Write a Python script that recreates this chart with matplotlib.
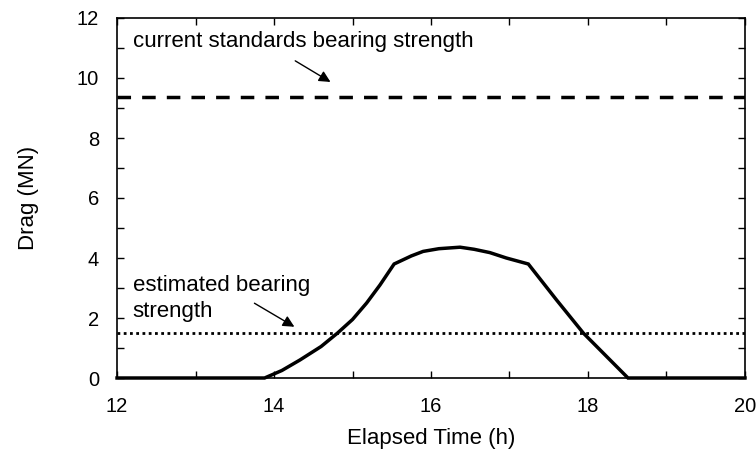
import numpy as np
import matplotlib.pyplot as plt
from matplotlib.ticker import MultipleLocator

plt.rcParams['font.family'] = ['Liberation Sans', 'DejaVu Sans']

# drag curve
time_h = [12.0, 13.88, 14.1, 14.33, 14.6, 14.81, 15.0, 15.18, 15.35, 15.53,
          15.75, 15.9, 16.1, 16.37, 16.55, 16.75, 16.96, 17.24,
          17.6, 17.94, 18.24, 18.51, 20.0]
drag_mn = [0.0, 0.0, 0.25, 0.6, 1.05, 1.5, 1.95, 2.5, 3.1, 3.8,
           4.07, 4.22, 4.31, 4.36, 4.29, 4.18, 4.0, 3.8,
           2.6, 1.5, 0.71, 0.0, 0.0]

current_strength = 9.37
estimated_strength = 1.5

fig = plt.figure(figsize=(7.56, 4.5), dpi=100)
ax = fig.add_axes([0.1548, 0.16, 0.8306, 0.80])

ax.plot(time_h, drag_mn, color='black', lw=2.5, solid_joinstyle='miter', clip_on=False, zorder=3)
ax.axhline(current_strength, color='black', lw=2.5, ls=(0, (3.9, 3.2)))
ax.axhline(estimated_strength, color='black', lw=2.0, ls=(0, (1.0, 1.25)))

ax.set_xlim(12, 20)
ax.set_ylim(0, 12)
ax.xaxis.set_major_locator(MultipleLocator(2))
ax.xaxis.set_minor_locator(MultipleLocator(1))
ax.yaxis.set_major_locator(MultipleLocator(2))
ax.yaxis.set_minor_locator(MultipleLocator(1))
ax.tick_params(which='both', direction='in', top=True, right=True, length=5, width=1, labelsize=14.5)
ax.tick_params(axis='x', pad=14)
ax.tick_params(axis='y', pad=13)

ax.set_xlabel('Elapsed Time (h)', fontsize=16, labelpad=8)
ax.set_ylabel('Drag (MN)', fontsize=16)
ax.yaxis.set_label_coords(-0.125, 0.5)

ax.annotate('', xy=(14.75, 9.82), xytext=(14.24, 10.62),
            arrowprops=dict(arrowstyle='-|>', color='black', lw=1, mutation_scale=17))
ax.text(12.2, 11.22, 'current standards bearing strength', fontsize=16, va='center')

ax.annotate('', xy=(14.29, 1.66), xytext=(13.72, 2.54),
            arrowprops=dict(arrowstyle='-|>', color='black', lw=1, mutation_scale=17))
ax.text(12.2, 2.65, 'estimated bearing\nstrength', fontsize=16, va='center', linespacing=1.3)

for s in ax.spines.values():
    s.set_linewidth(1.2)

plt.savefig('out.png', dpi=100)
